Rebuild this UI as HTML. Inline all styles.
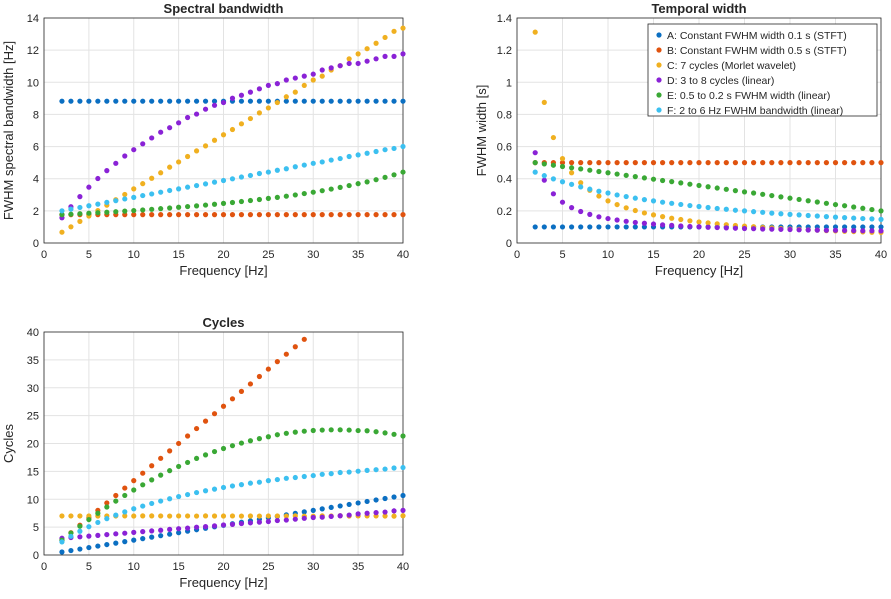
<!DOCTYPE html>
<html><head><meta charset="utf-8"><style>
body{margin:0;background:#fff;font-family:"Liberation Sans",sans-serif}
svg text{font-family:"Liberation Sans",sans-serif;fill:#262626}
</style></head><body>
<svg id="c" width="891" height="594"></svg>
<script>
const freqs=[2,3,4,5,6,7,8,9,10,11,12,13,14,15,16,17,18,19,20,21,22,23,24,25,26,27,28,29,30,31,32,33,34,35,36,37,38,39,40];
const tA=Array(39).fill(0.1);
const tB=Array(39).fill(0.5);
const tC=[1.312,0.875,0.656,0.525,0.437,0.375,0.328,0.292,0.262,0.239,0.219,0.202,0.187,0.175,0.164,0.154,0.146,0.138,0.131,0.125,0.119,0.114,0.109,0.105,0.101,0.097,0.094,0.090,0.087,0.085,0.082,0.080,0.077,0.075,0.073,0.071,0.069,0.067,0.066];
const tD=[0.562,0.391,0.306,0.254,0.220,0.196,0.178,0.163,0.152,0.143,0.135,0.128,0.123,0.118,0.113,0.110,0.106,0.103,0.101,0.098,0.096,0.094,0.092,0.090,0.089,0.087,0.086,0.085,0.084,0.082,0.081,0.080,0.079,0.079,0.078,0.077,0.076,0.076,0.075];
const tE=[0.500,0.492,0.484,0.476,0.468,0.461,0.453,0.445,0.437,0.429,0.421,0.413,0.405,0.397,0.389,0.382,0.374,0.366,0.358,0.350,0.342,0.334,0.326,0.318,0.311,0.303,0.295,0.287,0.279,0.271,0.263,0.255,0.247,0.239,0.232,0.224,0.216,0.208,0.200];
const tF=[0.441,0.419,0.399,0.381,0.365,0.349,0.335,0.322,0.311,0.299,0.289,0.279,0.270,0.262,0.254,0.247,0.240,0.233,0.227,0.221,0.215,0.210,0.204,0.200,0.195,0.191,0.186,0.182,0.178,0.175,0.171,0.168,0.164,0.161,0.158,0.155,0.152,0.150,0.147];
const seriesNames=["A: Constant FWHM width 0.1 s (STFT)","B: Constant FWHM width 0.5 s (STFT)","C: 7 cycles (Morlet wavelet)","D: 3 to 8 cycles (linear)","E: 0.5 to 0.2 s FWHM width (linear)","F: 2 to 6 Hz FWHM bandwidth (linear)"];
const colors=["#0b6fc2","#e0530f","#f0b020","#8a22d6","#3aa835","#3cc0f0"];
const xTicks=[0,5,10,15,20,25,30,35,40];
const y1Ticks=[0,2,4,6,8,10,12,14];
const y2Ticks=[0,0.2,0.4,0.6,0.8,1,1.2,1.4];
const y3Ticks=[0,5,10,15,20,25,30,35,40];
const times=[tA,tB,tC,tD,tE,tF];
const bw=times.map(t=>t.map(v=>0.8825/v));
const cyc=times.map(t=>t.map((v,i)=>v*freqs[i]/0.3748));
const NS="http://www.w3.org/2000/svg";
const svg=document.getElementById('c');
function mk(tag,at,parent){const e=document.createElementNS(NS,tag);for(const k in at)e.setAttribute(k,at[k]);(parent||svg).appendChild(e);return e;}
function panel(name,x0,x1,y0,y1,ymax,yt,data,title,ylab,fmt){
 const g=mk('g',{});
 
 
 const sx=v=>x0+(v/40)*(x1-x0), sy=v=>y0-(v/ymax)*(y0-y1);
 mk('rect',{x:x0,y:y1,width:x1-x0,height:y0-y1,fill:'#fff'},g);
 xTicks.forEach(t=>{const l=mk('line',{x1:sx(t),x2:sx(t),y1:y1,y2:y0,stroke:'#e3e3e3'},g);
  const tx=mk('text',{x:sx(t),y:y0+15,'font-size':11,'text-anchor':'middle'},g);tx.textContent=t;
  });
 yt.forEach(t=>{mk('line',{x1:x0,x2:x1,y1:sy(t),y2:sy(t),stroke:'#e3e3e3'},g);
  const tx=mk('text',{x:x0-5,y:sy(t)+4,'font-size':11,'text-anchor':'end'},g);tx.textContent=fmt(t);
  });
 mk('rect',{x:x0,y:y1,width:x1-x0,height:y0-y1,fill:'none',stroke:'#262626','stroke-width':0.8},g);
 data.forEach((s,si)=>{s.forEach((v,i)=>{if(v>ymax||v<0)return;
  const c=mk('circle',{cx:sx(freqs[i]),cy:sy(v),r:2.6,fill:colors[si]},g);
  
  });});
 const tt=mk('text',{x:(x0+x1)/2,y:y1-5,'font-size':13,'font-weight':'bold','text-anchor':'middle'},g);tt.textContent=title;
 
 const xl=mk('text',{x:(x0+x1)/2,y:y0+32,'font-size':13,'text-anchor':'middle'},g);xl.textContent='Frequency [Hz]';
 
 const yl=mk('text',{x:0,y:0,'font-size':13,'text-anchor':'middle',transform:`translate(${x0-31},${(y0+y1)/2}) rotate(-90)`},g);yl.textContent=ylab;
 
}
panel('spectral-bandwidth-panel',44,403,243,18,14,y1Ticks,bw,'Spectral bandwidth','FWHM spectral bandwidth [Hz]',t=>t);
panel('temporal-width-panel',517,881,243,18,1.4,y2Ticks,times,'Temporal width','FWHM width [s]',t=>t);
panel('cycles-panel',44,403,555,332,40,y3Ticks,cyc,'Cycles','Cycles',t=>t);
const lg=mk('g',{});


mk('rect',{x:648,y:24,width:229,height:92,fill:'#fff',stroke:'#262626','stroke-width':0.8},lg);
seriesNames.forEach((n,i)=>{const y=35+i*15;
 mk('circle',{cx:659,cy:y,r:2.6,fill:colors[i]},lg);
 const t=mk('text',{x:667,y:y+4,'font-size':10.5},lg);t.textContent=n;
 });
</script>
</body></html>
